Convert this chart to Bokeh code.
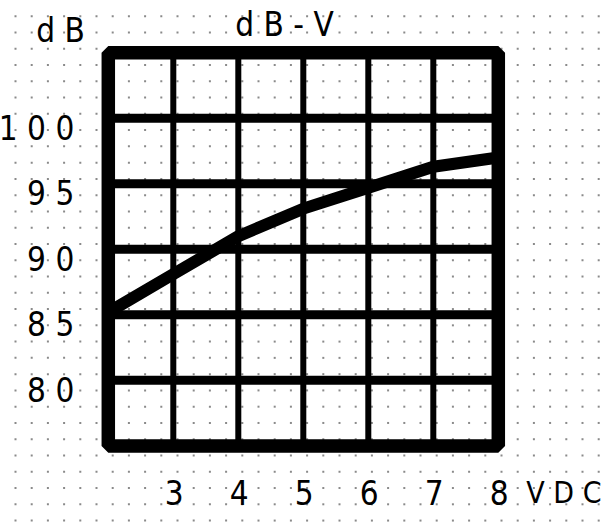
import numpy as np
from bokeh.plotting import figure
from bokeh.models import Range1d
from bokeh.core.properties import value
from bokeh.embed import file_html
from bokeh.resources import INLINE

# ---- data ----
volts = [2, 3, 4, 5, 6, 7, 8]
db = [85.2, 88.1, 91.0, 93.1, 94.7, 96.3, 97.0]

x_ticks = [3, 4, 5, 6, 7, 8]
x_tick_labels = ["3", "4", "5", "6", "7", "8"]
y_ticks = [100, 95, 90, 85, 80]
y_tick_labels = ["1 0 0", "9 5", "9 0", "8 5", "8 0"]
v_grid = [3, 4, 5, 6, 7]
h_grid = [80, 85, 90, 95, 100]
x_lo, x_hi = 2, 8
y_lo, y_hi = 75, 105

title_text = "d B - V"
y_unit = "d B"
x_unit = "V D C"

FONT = value("Liberation Sans Narrow, DejaVu Sans Condensed, Liberation Sans, Arial, sans-serif")
FSIZE = "33px"

W, H = 606, 523
p = figure(width=W, height=H, output_backend="svg", toolbar_location=None,
           x_range=Range1d(0.3415, 9.6646), y_range=Range1d(69.079, 108.981),
           x_axis_type=None, y_axis_type=None, min_border=0)
p.outline_line_color = None
p.background_fill_color = "white"
p.border_fill_color = "white"

# dotted drawing-paper texture, laid out in screen pixels
p.extra_x_ranges = {"px": Range1d(0, W)}
p.extra_y_ranges = {"px": Range1d(H, 0)}
dot_x = np.arange(15.0, W, 16.2)
dot_y = np.arange(15.7, H, 16.27)
gx, gy = np.meshgrid(dot_x, dot_y)
p.scatter(gx.ravel(), gy.ravel(), marker="square", size=2,
          fill_color="#8a8a8a", line_color=None,
          x_range_name="px", y_range_name="px")

# grid
p.segment(x0=v_grid, y0=[y_lo] * len(v_grid), x1=v_grid, y1=[y_hi] * len(v_grid),
          line_width=6, line_color="black")
p.segment(x0=[x_lo] * len(h_grid), y0=h_grid, x1=[x_hi] * len(h_grid), y1=h_grid,
          line_width=9, line_color="black")
# frame
p.quad(left=[x_lo], right=[x_hi], bottom=[y_lo], top=[y_hi], fill_color=None,
       line_color="black", line_width=13.5, line_join="bevel")

# curve
p.line(volts, db, line_width=12, line_color="black", line_join="round")

txt = dict(text_font=FONT, text_color="black", text_baseline="middle")
# tick labels
p.text(x=x_ticks, y=[y_lo] * len(x_ticks), text=x_tick_labels, x_offset=1, y_offset=47,
       text_align="center", text_font_size=FSIZE, **txt)
p.text(x=[x_lo] * len(y_ticks), y=y_ticks, text=y_tick_labels, x_offset=-34, y_offset=10,
       text_align="right", text_font_size=FSIZE, **txt)

# titles / units
p.text(x=[x_lo], y=[y_hi], text=[title_text], x_offset=127, y_offset=-28,
       text_align="left", text_font_size=FSIZE, **txt)
p.text(x=[x_lo], y=[y_hi], text=[y_unit], x_offset=-72, y_offset=-22,
       text_align="left", text_font_size=FSIZE, **txt)
p.text(x=[x_hi], y=[y_lo], text=[x_unit], x_offset=28, y_offset=47,
       text_align="left", text_font_size="30px", **txt)

open("out.html", "w").write(file_html(p, INLINE))
